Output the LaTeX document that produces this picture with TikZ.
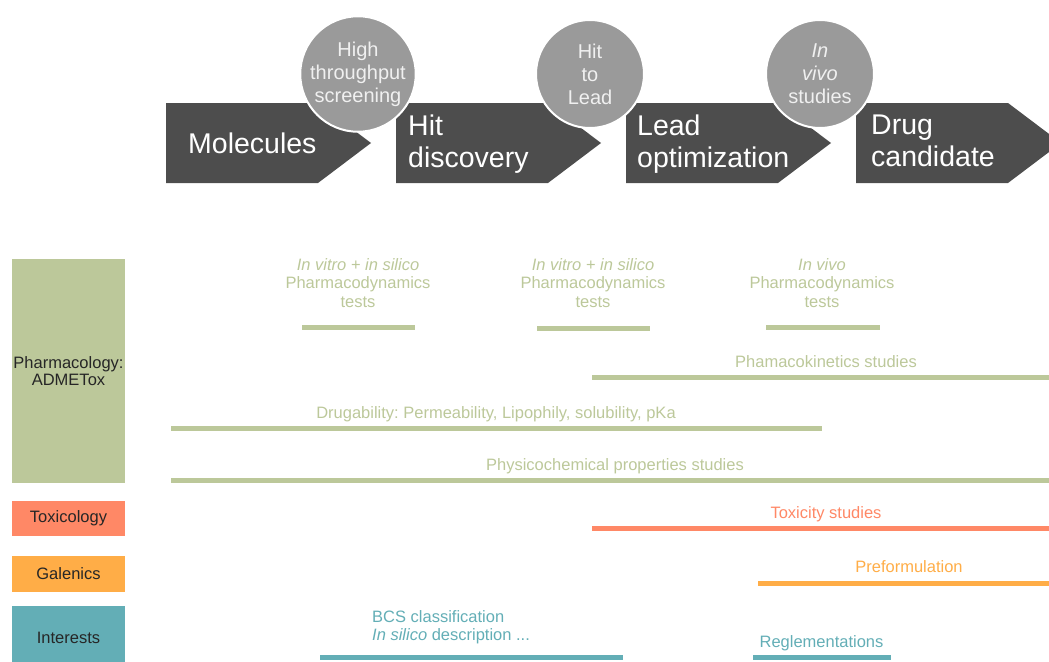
\documentclass[tikz,border=0pt]{standalone}
\usepackage{fontspec}
\setmainfont{Liberation Sans}
\usepackage{tikz}
\usetikzlibrary{positioning}
\frenchspacing
\definecolor{stagegray}{RGB}{77,77,77}
\definecolor{stepgray}{RGB}{154,154,154}
\definecolor{pharmgreen}{RGB}{188,200,154}
\definecolor{toxred}{RGB}{255,136,102}
\definecolor{galorange}{RGB}{255,173,71}
\definecolor{intteal}{RGB}{99,174,182}
\tikzset{
  stagetext/.style={text=white, inner sep=0pt, align=left,
                    font=\fontsize{28.5}{32}\selectfont},
  stepcircle/.style={circle, fill=stepgray, draw=white, line width=2pt,
                     minimum size=108pt, inner sep=0pt, align=center,
                     text=white!94!black, font=\fontsize{20}{23}\selectfont},
  catbox/.style={minimum width=113pt, inner sep=0pt, align=center,
                 text=black!85, font=\fontsize{16.5}{16.5}\selectfont},
  bar/.style={line width=5pt},
  barlabel/.style={inner sep=0pt, align=center,
                   font=\fontsize{16.5}{18.5}\selectfont},
}

\begin{document}
\begin{tikzpicture}[x=1pt, y=-1pt]
  \useasboundingbox (0,0) rectangle (1049,661);
  \clip (0,0) rectangle (1049,661);

  % stage arrows
  \foreach \xs in {166,396,626,856}
    \fill[stagegray] (\xs,103) -- ++(152,0) -- ++(53,40) -- ++(-53,40) -- ++(-152,0) -- cycle;
  \node[stagetext, anchor=base west]  (mol)  at (188,153)   {Molecules};
  \node[stagetext, anchor=north west] (hit)  at (408,114.5) {Hit\\discovery};
  \node[stagetext, anchor=north west] (lead) at (637,114.5) {Lead\\optimization};
  \node[stagetext, anchor=north west] (cand) at (871,114.5) {Drug\\candidate};

  % steps between stages
  \node[stepcircle] (hts)  at (358,74) {High\\throughput\\screening};
  \node[stepcircle] (h2l)  at (590,74) {Hit\\to\\Lead};
  \node[stepcircle] (vivo) at (820,74) {\textit{In}\\\textit{vivo}\\studies};

  % left column
  \node[catbox, fill=pharmgreen, minimum height=224pt] (pharma) at (68.5,371) {Pharmacology:\\ADMETox};
  \node[catbox, fill=toxred,     minimum height=35pt]  (toxi)   at (68.5,518.5) {Toxicology};
  \node[catbox, fill=galorange,  minimum height=36pt]  (gale)   at (68.5,574) {Galenics};
  \node[catbox, fill=intteal,    minimum height=64pt]  (inter)  at (68.5,638) {Interests};

  % pharmacology bars
  \draw[bar, pharmgreen] (302,327) -- (415,327);
  \draw[bar, pharmgreen] (537,328) -- (650,328);
  \draw[bar, pharmgreen] (766,327) -- (880,327);
  \draw[bar, pharmgreen] (592,377) -- (1049,377);
  \draw[bar, pharmgreen] (171,428) -- (822,428);
  \draw[bar, pharmgreen] (171,480) -- (1049,480);
  \node[barlabel, text=pharmgreen, anchor=north] (pd1) at (358,258) {\textit{In vitro + in silico}\\Pharmacodynamics\\tests};
  \node[barlabel, text=pharmgreen, anchor=north] (pd2) at (593,258) {\textit{In vitro + in silico}\\Pharmacodynamics\\tests};
  \node[barlabel, text=pharmgreen, anchor=north] (pd3) at (822,258) {\textit{In vivo}\\Pharmacodynamics\\tests};
  \node[barlabel, text=pharmgreen, anchor=base] (pk)     at (826,367) {Phamacokinetics studies};
  \node[barlabel, text=pharmgreen, anchor=base] (drugab) at (496,418) {Drugability: Permeability, Lipophily, solubility, pKa};
  \node[barlabel, text=pharmgreen, anchor=base] (phys)   at (615,470) {Physicochemical properties studies};

  % toxicology, galenics, interests bars
  \draw[bar, toxred]    (592,528) -- (1049,528);
  \draw[bar, galorange] (758,583) -- (1049,583);
  \draw[bar, intteal]   (320,657) -- (623,657);
  \draw[bar, intteal]   (753,657) -- (891,657);
  \node[barlabel, text=toxred,    anchor=base] (toxst)   at (826,518) {Toxicity studies};
  \node[barlabel, text=galorange, anchor=base] (preform) at (909,572) {Preformulation};
  \node[barlabel, text=intteal,   anchor=base] (regl)    at (821.5,647) {Reglementations};
  \node[barlabel, text=intteal, anchor=north west, align=left] (bcs) at (372,610) {BCS classification\\\textit{In silico} description ...};
\end{tikzpicture}
\end{document}
